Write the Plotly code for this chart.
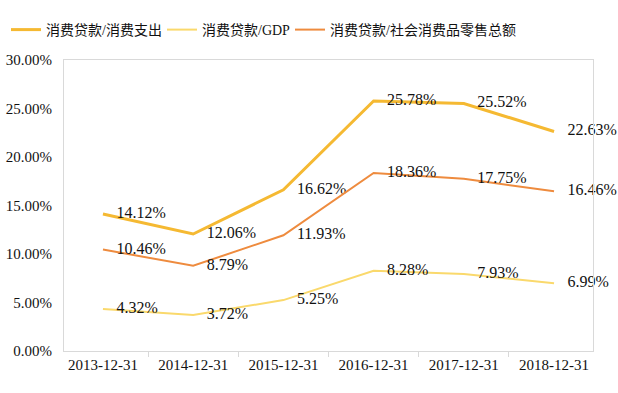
import plotly.graph_objects as go

categories = ["2013-12-31", "2014-12-31", "2015-12-31", "2016-12-31", "2017-12-31", "2018-12-31"]
loan_to_spending = [14.12, 12.06, 16.62, 25.78, 25.52, 22.63]
loan_to_gdp = [4.32, 3.72, 5.25, 8.28, 7.93, 6.99]
loan_to_retail = [10.46, 8.79, 11.93, 18.36, 17.75, 16.46]
series_names = ["消费贷款/消费支出", "消费贷款/GDP", "消费贷款/社会消费品零售总额"]
y_ticks = [0, 5, 10, 15, 20, 25, 30]

FONT = "Liberation Serif, Times New Roman, Noto Sans CJK SC, serif"

fig = go.Figure()
series = [
    (series_names[0], loan_to_spending, "#F5B932", 3, "legend"),
    (series_names[1], loan_to_gdp, "#FAD96C", 2, "legend2"),
    (series_names[2], loan_to_retail, "#EE8B3E", 2, "legend3"),
]
for name, vals, color, w, lg in series:
    fig.add_trace(go.Scatter(
        x=categories, y=vals, name=name, mode="lines+markers+text",
        line=dict(color=color, width=w),
        marker=dict(size=20, color="rgba(0,0,0,0)"),
        text=[f"{v:.2f}%" for v in vals],
        textposition="middle right",
        textfont=dict(family=FONT, size=16, color="#111111"),
        cliponaxis=False,
        hoverinfo="skip",
        legend=lg,
    ))

def legend_at(x):
    return dict(
        orientation="h", xref="container", yref="container",
        x=x, y=1 - 30 / 393, xanchor="left", yanchor="middle",
        font=dict(family=FONT, size=14, color="#111111"),
        itemwidth=30, bgcolor="rgba(0,0,0,0)",
    )

fig.update_layout(
    width=618, height=393,
    margin=dict(l=64, r=25, t=60, b=42, autoexpand=False),
    paper_bgcolor="white", plot_bgcolor="white",
    font=dict(family=FONT, size=15, color="#111111"),
    showlegend=True,
    legend=legend_at(6 / 618),
    legend2=legend_at(162 / 618),
    legend3=legend_at(290 / 618),
    xaxis=dict(
        type="category", showline=True, linecolor="#D9D9D9", linewidth=1,
        mirror=True, ticks="outside", tickson="boundaries", ticklen=5,
        tickcolor="#D9D9D9", showgrid=False, zeroline=False,
        tickfont=dict(family=FONT, size=15, color="#111111"),
    ),
    yaxis=dict(
        range=[0, 30], tickvals=y_ticks,
        ticktext=[f"{t:.2f}%" for t in y_ticks],
        showline=True, linecolor="#D9D9D9", linewidth=1, mirror=True,
        showgrid=False, zeroline=False, ticks="",
        ticklabelstandoff=8,
        tickfont=dict(family=FONT, size=15, color="#111111"),
    ),
)

fig.write_html(
    "out.html",
    config={"displayModeBar": False},
    post_script="document.body.style.margin='0';document.body.style.overflow='hidden';",
)
